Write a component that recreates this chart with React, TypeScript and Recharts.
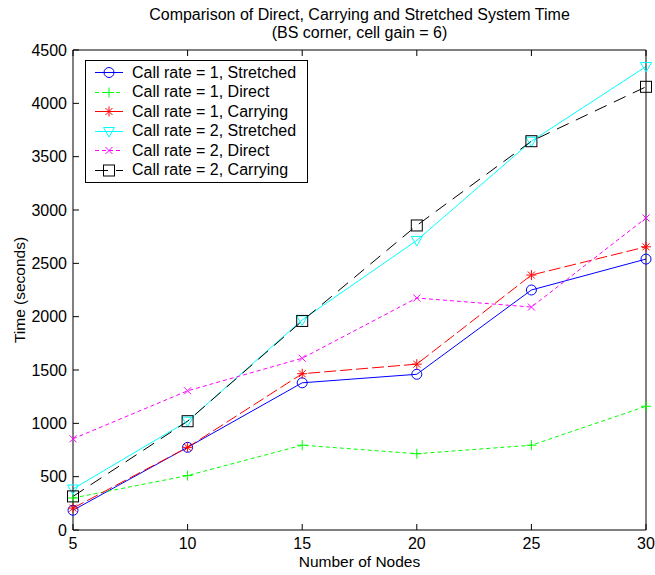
import React from "react";
import { LineChart, Line, XAxis, YAxis, Legend } from "recharts";

const nodes = [5, 10, 15, 20, 25, 30];
const rate1Stretched = [185, 775, 1380, 1460, 2250, 2540];
const rate1Direct = [300, 510, 795, 715, 795, 1160];
const rate1Carrying = [205, 775, 1465, 1555, 2390, 2655];
const rate2Stretched = [385, 1020, 1970, 2715, 3645, 4345];
const rate2Direct = [855, 1305, 1610, 2175, 2090, 2925];
const rate2Carrying = [315, 1020, 1960, 2855, 3645, 4155];
const xTicks = [5, 10, 15, 20, 25, 30];
const yTicks = [0, 500, 1000, 1500, 2000, 2500, 3000, 3500, 4000, 4500];

const FONT = "'Liberation Sans', Arial, Helvetica, sans-serif";

type Shape = "circle" | "plus" | "star" | "triangle" | "x" | "square";

const series: { key: string; name: string; values: number[]; color: string; dash?: string; marker: Shape }[] = [
  { key: "r1s", name: "Call rate = 1, Stretched", values: rate1Stretched, color: "#0000ff", marker: "circle" },
  { key: "r1d", name: "Call rate = 1, Direct", values: rate1Direct, color: "#00ff00", dash: "4 3", marker: "plus" },
  { key: "r1c", name: "Call rate = 1, Carrying", values: rate1Carrying, color: "#ff0000", dash: "12 4", marker: "star" },
  { key: "r2s", name: "Call rate = 2, Stretched", values: rate2Stretched, color: "#00ffff", marker: "triangle" },
  { key: "r2d", name: "Call rate = 2, Direct", values: rate2Direct, color: "#ff00ff", dash: "4 3", marker: "x" },
  { key: "r2c", name: "Call rate = 2, Carrying", values: rate2Carrying, color: "#000000", dash: "13 8", marker: "square" },
];

const data = nodes.map((n, i) => {
  const row: Record<string, number> = { n };
  series.forEach((s) => (row[s.key] = s.values[i]));
  return row;
});

function Marker({ cx, cy, shape, color }: { cx?: number; cy?: number; shape: Shape; color: string }) {
  if (cx == null || cy == null) return null;
  switch (shape) {
    case "circle":
      return <circle cx={cx} cy={cy} r={5} fill="none" stroke={color} />;
    case "plus":
      return <path d={`M${cx - 5},${cy}H${cx + 5}M${cx},${cy - 5}V${cy + 5}`} stroke={color} fill="none" />;
    case "star":
      return (
        <path
          d={`M${cx - 5},${cy}H${cx + 5}M${cx},${cy - 5}V${cy + 5}M${cx - 3.5},${cy - 3.5}L${cx + 3.5},${cy + 3.5}M${cx + 3.5},${cy - 3.5}L${cx - 3.5},${cy + 3.5}`}
          stroke={color}
          fill="none"
        />
      );
    case "triangle":
      return <path d={`M${cx - 5.5},${cy - 4}L${cx + 5.5},${cy - 4}L${cx},${cy + 5.5}Z`} stroke={color} fill="none" />;
    case "x":
      return <path d={`M${cx - 3.5},${cy - 3.5}L${cx + 3.5},${cy + 3.5}M${cx + 3.5},${cy - 3.5}L${cx - 3.5},${cy + 3.5}`} stroke={color} fill="none" />;
    case "square":
      return <rect x={cx - 5.5} y={cy - 5.5} width={11} height={11} stroke={color} fill="none" />;
  }
  return null;
}

const renderLegend = () => (
  <div
    style={{
      width: 221,
      border: "1px solid #000",
      background: "#fff",
      padding: "2px 0",
      fontFamily: FONT,
      fontSize: 16,
      color: "#000",
    }}
  >
    {series.map((s) => (
      <div key={s.key} style={{ display: "flex", alignItems: "center", height: 19.5 }}>
        <svg width={46} height={19} style={{ flex: "none" }}>
          <line x1={9} x2={37} y1={9.5} y2={9.5} stroke={s.color} strokeDasharray={s.dash} />
          <Marker cx={23} cy={9.5} shape={s.marker} color={s.color} />
        </svg>
        <span style={{ whiteSpace: "nowrap" }}>{s.name}</span>
      </div>
    ))}
  </div>
);

export default function App() {
  return (
    <div style={{ position: "absolute", left: 0, top: 0, width: 655, height: 575, background: "#fff" }}>
      <div
        style={{
          position: "absolute",
          left: 73,
          top: 6,
          width: 573,
          textAlign: "center",
          fontFamily: FONT,
          fontSize: 16,
          lineHeight: "18px",
          color: "#000",
        }}
      >
        <div>Comparison of Direct, Carrying and Stretched System Time</div>
        <div>(BS corner, cell gain = 6)</div>
      </div>
      <LineChart width={655} height={575} data={data} margin={{ top: 49, right: 8, bottom: 5, left: 8 }} style={{ fontFamily: FONT }}>
        <XAxis
          dataKey="n"
          type="number"
          domain={[5, 30]}
          ticks={xTicks}
          interval={0}
          height={40}
          tickSize={-6}
          tickMargin={14}
          stroke="#000"
          tick={{ fill: "#000", fontSize: 16 }}
          label={{ value: "Number of Nodes", position: "insideBottom", offset: 3, style: { fill: "#000", fontSize: 15.5 } }}
        />
        <XAxis
          xAxisId="top"
          orientation="top"
          dataKey="n"
          type="number"
          domain={[5, 30]}
          ticks={xTicks}
          interval={0}
          height={1}
          tickSize={-6}
          tickFormatter={() => ""}
          stroke="#000"
        />
        <YAxis
          type="number"
          domain={[0, 4500]}
          ticks={yTicks}
          interval={0}
          width={65}
          tickSize={-6}
          tickMargin={12}
          stroke="#000"
          tick={{ fill: "#000", fontSize: 16 }}
          label={{
            value: "Time (seconds)",
            angle: -90,
            position: "insideLeft",
            offset: 11,
            style: { textAnchor: "middle", fill: "#000", fontSize: 15.5 },
          }}
        />
        <YAxis
          yAxisId="right"
          orientation="right"
          type="number"
          domain={[0, 4500]}
          ticks={yTicks}
          interval={0}
          width={1}
          tickSize={-6}
          tickFormatter={() => ""}
          stroke="#000"
        />
        <Legend
          layout="horizontal"
          verticalAlign="middle"
          align="center"
          wrapperStyle={{ left: 85, top: 60, width: "auto" }}
          content={renderLegend}
        />
        {series.map((s) => (
          <Line
            key={s.key}
            dataKey={s.key}
            name={s.name}
            type="linear"
            stroke={s.color}
            strokeWidth={1}
            strokeDasharray={s.dash}
            isAnimationActive={false}
            activeDot={false}
            dot={(p: any) => <Marker key={`${s.key}-${p.index}`} cx={p.cx} cy={p.cy} shape={s.marker} color={s.color} />}
          />
        ))}
      </LineChart>
    </div>
  );
}
